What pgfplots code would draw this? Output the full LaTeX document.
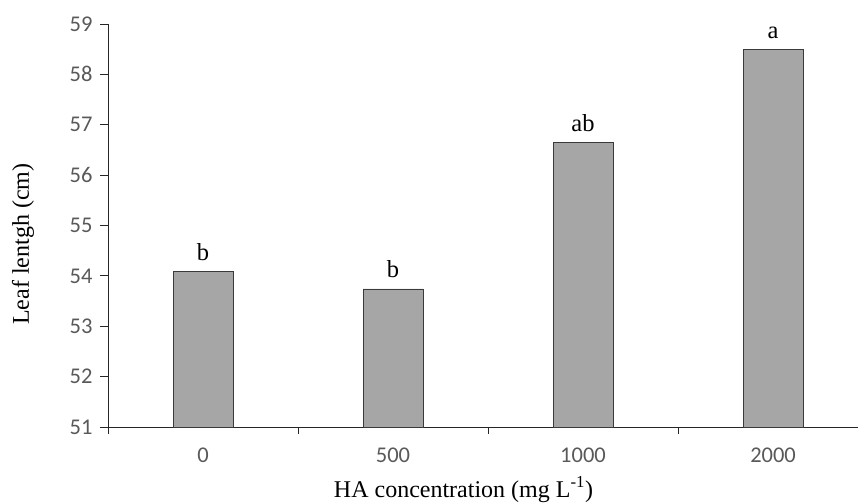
\documentclass[border=0pt]{standalone}
\usepackage{pgfplots}
\pgfplotsset{compat=1.18}
\usepackage{fontspec}
\setmainfont{Liberation Serif}
\newfontfamily\calibri{Carlito}
\definecolor{barfill}{HTML}{A6A6A6}
\definecolor{barline}{HTML}{3A3A3A}
\definecolor{ticktext}{HTML}{595959}
\begin{document}
\begin{tikzpicture}
\begin{axis}[
  scale only axis,
  width=750pt, height=403pt,
  xmin=-0.5, xmax=3.447,
  ymin=51, ymax=59,
  axis lines=left,
  axis line style={-, line width=0.9pt, black!85},
  clip=false,
  ybar, bar width=60pt,
  ytick={51,52,...,59},
  xtick={0,1,2,3},
  xticklabels={0,500,1000,2000},
  minor xtick={-0.5,0.5,1.5,2.5},
  tick align=outside,
  major tick length=8pt,
  minor tick length=7pt,
  major x tick style={draw=none},
  tick style={line width=0.9pt, black!85},
  /pgf/number format/assume math mode=true,
  tick label style={font=\calibri\fontsize{22.5}{26}\selectfont, text=ticktext},
  yticklabel style={xshift=-4pt},
  xticklabel style={yshift=-9pt},
  xlabel={HA concentration (mg L\textsuperscript{-1})},
  ylabel={Leaf lentgh (cm)},
  label style={font=\fontsize{24}{28}\selectfont},
  xlabel style={at={(axis description cs:0.474,-0.1737)}, anchor=base},
  ylabel style={at={(axis description cs:-0.1133,0.454)}, anchor=center},
  nodes near coords,
  point meta=explicit symbolic,
  every node near coord/.append style={font=\fontsize{24.5}{28}\selectfont, text=black, yshift=7pt},
]
\addplot[fill=barfill, draw=barline, line width=0.9pt]
  coordinates {(0,54.08) [b] (1,53.74) [b] (2,56.64) [ab] (3,58.49) [a]};
\end{axis}
\pgfresetboundingbox
\path[use as bounding box] (current axis.south west) ++(-108pt,-76pt) rectangle ++(858pt,503pt);
\end{tikzpicture}
\end{document}
